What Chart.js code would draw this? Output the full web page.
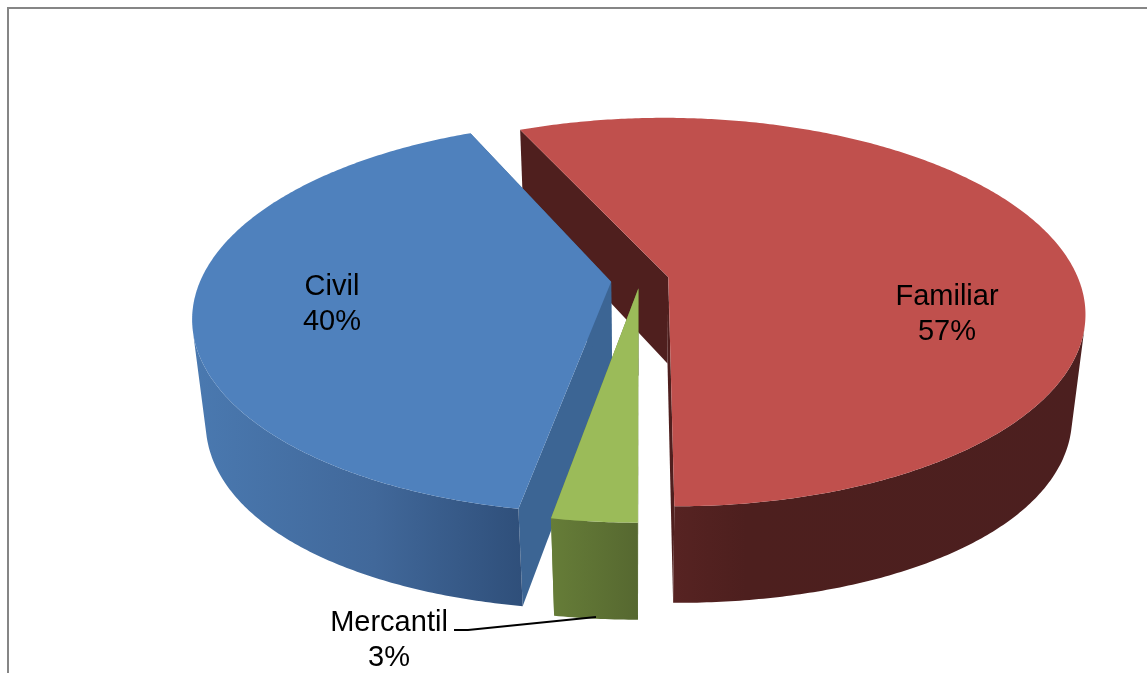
<!DOCTYPE html>
<html lang="es">

<head>
	<meta charset="UTF-8">
	<title>Materias</title>
	<style>
		html, body { margin: 0; padding: 0; background: #fff; overflow: hidden; }
		canvas { display: block; }
	</style>
</head>

<body>
	<canvas id="myChart" width="1147" height="673"></canvas>

	<script src="https://cdn.jsdelivr.net/npm/chart.js"></script>
	<script>
		const categories = ['Familiar', 'Mercantil', 'Civil'];
		const values = [56.7, 2.76, 40.49];
		const explode = [23, 14, 23];

		const topColors = ['#C0504D', '#9BBB59', '#4F81BD'];
		const cutColors = ['#4F1F1E', '#667D38', '#3C6594'];
		const wallStops = [
			[[0, '#6B2B2A'], [0.4, '#4D1F1E'], [1, '#4C1F1F']],
			[[0, '#667D38'], [1, '#566830']],
			[[0, '#4A79B0'], [0.55, '#41689A'], [1, '#2F4F7A']]
		];

		// centre of each text block, in page pixels
		const labelPos = [[947, 312], [389, 638], [332, 302]];
		const leader = [[454, 630], [468, 630], [596, 617]];

		// camera used to lay the flat pie on its side
		const view = { cx: 640, cy: 280, a: 410.5, b: 189, depth: 89, bulge: 14, p: 0.18, q: 0.03 };

		function project(x, y, z) {
			const w = 1 - view.p * y + view.q * z;
			const drop = (view.depth + view.bulge * x * x) * z;
			return [view.cx + view.a * x / w, view.cy + (view.b * y + drop) / w];
		}

		function trace(ctx, pts) {
			ctx.beginPath();
			pts.forEach((p, i) => i ? ctx.lineTo(p[0], p[1]) : ctx.moveTo(p[0], p[1]));
			ctx.closePath();
		}

		// negative when a wall strip faces the viewer
		function stripSign(a, b, c, d) {
			return Math.sign((b[0] - a[0]) * (d[1] - a[1]) - (b[1] - a[1]) * (d[0] - a[0]));
		}

		function drawSlice(ctx, arc, i) {
			const mid = (arc.startAngle + arc.endAngle) / 2;
			const e = arc.options.offset / arc.outerRadius;
			const ox = Math.cos(mid) * e;
			const oy = Math.sin(mid) * e;

			const rim = [];
			const steps = Math.ceil((arc.endAngle - arc.startAngle) / 0.01);
			for (let s = 0; s <= steps; s++) {
				const t = arc.startAngle + (arc.endAngle - arc.startAngle) * s / steps;
				rim.push([ox + Math.cos(t), oy + Math.sin(t)]);
			}
			const first = rim[0];
			const last = rim[rim.length - 1];
			const at = (p, z) => project(p[0], p[1], z);
			const apex = [ox, oy];

			// the two cut faces
			ctx.fillStyle = cutColors[i];
			trace(ctx, [at(apex, 0), at(first, 0), at(first, 1), at(apex, 1)]);
			ctx.fill();
			trace(ctx, [at(apex, 0), at(last, 0), at(last, 1), at(apex, 1)]);
			ctx.fill();

			// outer wall, only the part that faces the viewer
			const upper = rim.map(p => at(p, 0));
			const lower = rim.map(p => at(p, 1));
			const xs = upper.concat(lower).map(p => p[0]);
			const grad = ctx.createLinearGradient(Math.min(...xs), 0, Math.max(...xs), 0);
			wallStops[i].forEach(s => grad.addColorStop(s[0], s[1]));
			ctx.fillStyle = grad;
			const front = [];
			for (let s = 0; s < steps; s++) {
				if (stripSign(upper[s], upper[s + 1], lower[s + 1], lower[s]) < 0) front.push(s);
			}
			if (front.length) {
				const from = front[0];
				const to = front[front.length - 1] + 1;
				trace(ctx, upper.slice(from, to + 1).concat(lower.slice(from, to + 1).reverse()));
				ctx.fill();
			}

			// top face
			ctx.fillStyle = topColors[i];
			trace(ctx, [at(apex, 0)].concat(upper));
			ctx.fill();
		}

		const pie3d = {
			id: 'pie3d',
			beforeDraw: (chart) => {
				const ctx = chart.ctx;
				ctx.save();
				ctx.fillStyle = '#868686';
				ctx.fillRect(7, 7, chart.width - 7, 2);
				ctx.fillRect(7, 7, 2, chart.height - 7);
				ctx.restore();
			},
			// the arcs keep their geometry from the library, only the painting is replaced
			beforeDatasetDraw: (chart, args) => {
				const ctx = chart.ctx;
				const arcs = args.meta.data;
				ctx.save();
				[0, 2, 1].forEach(i => drawSlice(ctx, arcs[i], i));
				ctx.restore();
				return false;
			},
			afterDraw: (chart) => {
				const ctx = chart.ctx;
				ctx.save();
				ctx.strokeStyle = '#000';
				ctx.lineWidth = 2;
				ctx.beginPath();
				leader.forEach((p, i) => i ? ctx.lineTo(p[0], p[1]) : ctx.moveTo(p[0], p[1]));
				ctx.stroke();

				ctx.fillStyle = '#000';
				ctx.font = '29px "Liberation Sans"';
				ctx.textAlign = 'center';
				ctx.textBaseline = 'alphabetic';
				categories.forEach((name, i) => {
					const pos = labelPos[i];
					ctx.fillText(name, pos[0], pos[1] - 7);
					ctx.fillText(Math.round(values[i]) + '%', pos[0], pos[1] + 28);
				});
				ctx.restore();
			}
		};

		const myChart = new Chart(document.getElementById('myChart'), {
			type: 'pie',
			data: {
				labels: categories,
				datasets: [{
					data: values,
					offset: explode,
					backgroundColor: topColors,
					borderWidth: 0
				}]
			},
			options: {
				responsive: false,
				animation: false,
				rotation: -24.2,
				plugins: {
					legend: { display: false },
					tooltip: { enabled: false }
				}
			},
			plugins: [pie3d]
		});
	</script>
</body>

</html>
